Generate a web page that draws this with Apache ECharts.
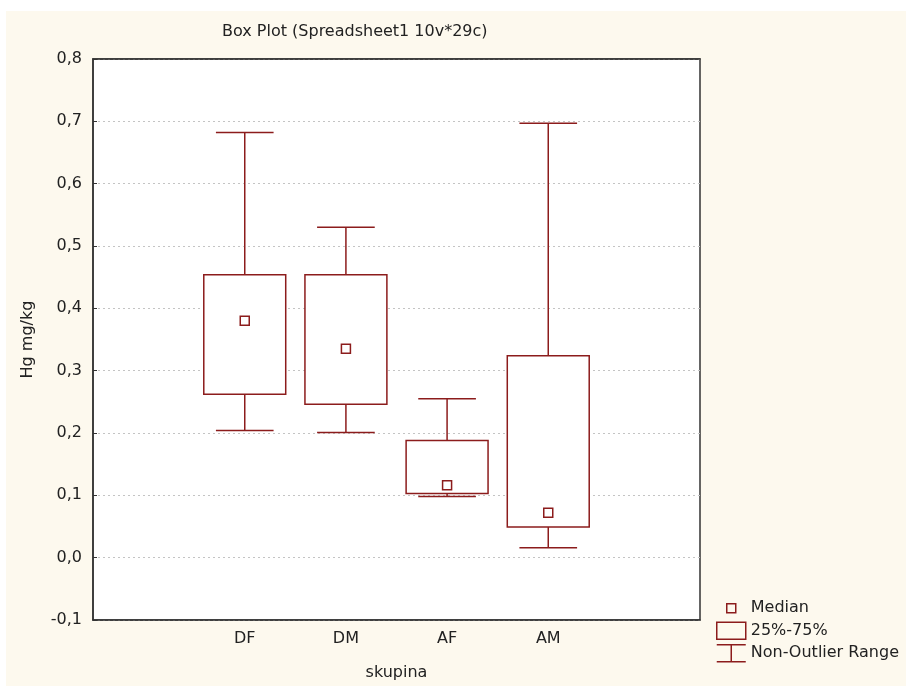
<!DOCTYPE html>
<html>
<head>
<meta charset="utf-8">
<script src="https://cdn.jsdelivr.net/npm/echarts@6/dist/echarts.min.js"></script>
<style>
  html, body { margin: 0; padding: 0; background: #ffffff; width: 906px; height: 686px; overflow: hidden; }
  #chart { position: absolute; left: 6px; top: 11px; width: 900px; height: 675px; }
</style>
</head>
<body>
<div id="chart"></div>
<script>
// ---- data ----
const categories = ['', 'DF', 'DM', 'AF', 'AM', ''];
const groups = ['DF', 'DM', 'AF', 'AM'];
const whiskerLow  = [0.204, 0.201, 0.098, 0.016];
const q1          = [0.262, 0.246, 0.103, 0.049];
const median      = [0.380, 0.335, 0.116, 0.072];
const q3          = [0.454, 0.454, 0.188, 0.324];
const whiskerHigh = [0.682, 0.530, 0.255, 0.697];
const yTicks = { min: -0.1, max: 0.8, step: 0.1 };

const C = '#8c1c1c';
const FONT = 'DejaVu Sans';
const FS = 16;

const boxData = groups.map((g, i) => [g, q1[i], q3[i]]);
const whiskerData = groups.map((g, i) => [g, whiskerLow[i], whiskerHigh[i]]);
const medianData = groups.map((g, i) => [g, median[i]]);

function renderWhisker(params, api) {
  const x = api.value(0);
  const lo = api.coord([x, api.value(1)]);
  const hi = api.coord([x, api.value(2)]);
  const band = api.size([1, 0])[0];
  const half = band * 0.285;
  const style = { stroke: C, lineWidth: 1.5, fill: null };
  return {
    type: 'group',
    children: [
      { type: 'line', shape: { x1: lo[0], y1: lo[1], x2: hi[0], y2: hi[1] }, style },
      { type: 'line', shape: { x1: lo[0] - half, y1: lo[1], x2: lo[0] + half, y2: lo[1] }, style },
      { type: 'line', shape: { x1: hi[0] - half, y1: hi[1], x2: hi[0] + half, y2: hi[1] }, style }
    ]
  };
}

function renderBox(params, api) {
  const x = api.value(0);
  const lo = api.coord([x, api.value(1)]);
  const hi = api.coord([x, api.value(2)]);
  const band = api.size([1, 0])[0];
  const w = band * 0.81;
  return {
    type: 'rect',
    shape: { x: lo[0] - w / 2, y: hi[1], width: w, height: lo[1] - hi[1] },
    style: { fill: '#ffffff', stroke: C, lineWidth: 1.5 }
  };
}

const chart = echarts.init(document.getElementById('chart'), null, { renderer: 'canvas' });
chart.setOption({
  backgroundColor: '#fdf9ee',
  animation: false,
  textStyle: { fontFamily: FONT },
  title: {
    text: 'Box Plot (Spreadsheet1 10v*29c)',
    left: 216, top: 13, padding: 0,
    textStyle: { fontFamily: FONT, fontSize: FS, fontWeight: 'normal', color: '#222' }
  },
  grid: {
    left: 87, right: 206, top: 48, bottom: 64,
    show: true, backgroundColor: '#ffffff', borderColor: '#333', borderWidth: 1.5
  },
  legend: {
    orient: 'vertical', left: 705, top: 583,
    itemWidth: 29, itemHeight: 17, itemGap: 4,
    textStyle: { fontFamily: FONT, fontSize: FS, color: '#222' },
    data: [
      { name: 'Median', icon: 'path://M0,0M29,17M10,4h9v9h-9z',
        itemStyle: { color: 'rgba(0,0,0,0)', borderColor: C, borderWidth: 1.5 } },
      { name: '25%-75%', icon: 'rect',
        itemStyle: { color: 'rgba(0,0,0,0)', borderColor: C, borderWidth: 1.5 } },
      { name: 'Non-Outlier Range', icon: 'path://M0,0H29M14.5,0V17M0,17H29',
        itemStyle: { color: 'rgba(0,0,0,0)', borderColor: C, borderWidth: 1.5 } }
    ]
  },
  xAxis: [
    {
      type: 'category', data: categories, position: 'bottom',
      boundaryGap: true,
      name: 'skupina', nameLocation: 'middle', nameGap: 45,
      nameTextStyle: { fontFamily: FONT, fontSize: FS, color: '#222' },
      axisLine: { onZero: false, lineStyle: { color: '#333', width: 1.5 } },
      axisTick: { inside: true, length: 4, alignWithLabel: true, lineStyle: { color: '#333' } },
      axisLabel: { margin: 11, fontFamily: FONT, fontSize: FS, color: '#222', interval: 0 },
      splitLine: { show: false }
    },
    {
      type: 'category', data: categories, position: 'top',
      boundaryGap: true,
      axisLine: { onZero: false, lineStyle: { color: '#333', width: 1.5 } },
      axisTick: { inside: true, length: 4, alignWithLabel: true, lineStyle: { color: '#333' } },
      axisLabel: { show: false },
      splitLine: { show: false }
    }
  ],
  yAxis: {
    type: 'value', min: yTicks.min, max: yTicks.max, interval: yTicks.step,
    name: 'Hg mg/kg', nameLocation: 'middle', nameGap: 57,
    nameTextStyle: { fontFamily: FONT, fontSize: FS, color: '#222' },
    axisLine: { show: true, onZero: false, lineStyle: { color: '#333', width: 1.5 } },
    axisTick: { show: true, inside: true, length: 4, lineStyle: { color: '#333' } },
    axisLabel: {
      margin: 11, fontFamily: FONT, fontSize: FS, color: '#222',
      formatter: v => (Math.round(v * 10) / 10).toFixed(1).replace('.', ',')
    },
    splitLine: { show: true, lineStyle: { color: '#c4c4c4', type: [2, 3], width: 1 } }
  },
  series: [
    { name: 'Non-Outlier Range', type: 'custom', renderItem: renderWhisker, data: whiskerData,
      encode: { x: 0, y: [1, 2] }, itemStyle: { color: C }, z: 2 },
    { name: '25%-75%', type: 'custom', renderItem: renderBox, data: boxData,
      encode: { x: 0, y: [1, 2] }, itemStyle: { color: C }, z: 3 },
    { name: 'Median', type: 'scatter', data: medianData, symbol: 'rect', symbolSize: 9,
      itemStyle: { color: '#ffffff', borderColor: C, borderWidth: 1.5, opacity: 1 }, z: 4 }
  ]
});
</script>
</body>
</html>
